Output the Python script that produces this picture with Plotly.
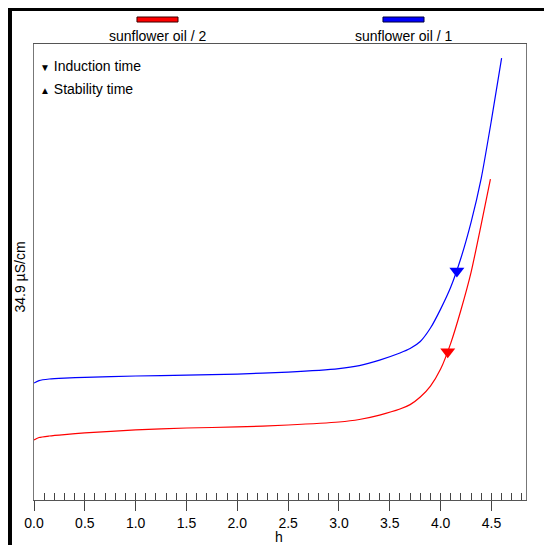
import plotly.graph_objects as go

# ---- data (h, conductivity µS/cm) ----
blue_h = [0.00, 0.05, 0.15, 0.30, 0.50, 1.00, 1.50, 2.00, 2.50, 3.00, 3.20, 3.40, 3.60,
          3.70, 3.80, 3.90, 4.00, 4.10, 4.20, 4.30, 4.40, 4.50, 4.60]
blue_y = [8.95, 9.14, 9.26, 9.33, 9.39, 9.49, 9.56, 9.64, 9.79, 10.06, 10.29, 10.71, 11.25,
          11.59, 12.13, 13.16, 14.61, 16.30, 18.52, 21.27, 24.64, 29.07, 33.82]

red_h = [0.00, 0.05, 0.15, 0.30, 0.50, 1.00, 1.50, 2.00, 2.50, 3.00, 3.20, 3.40, 3.60,
         3.70, 3.80, 3.90, 4.00, 4.10, 4.20, 4.30, 4.40, 4.49]
red_y = [4.59, 4.78, 4.90, 5.01, 5.13, 5.36, 5.51, 5.59, 5.74, 5.97, 6.16, 6.50, 6.96,
         7.30, 7.88, 8.72, 10.02, 12.01, 14.54, 17.44, 21.12, 24.56]

induction_h = [4.07, 4.16]
induction_y = [11.34, 17.52]
induction_colors = ["#ff0000", "#0000ff"]

series_names = ["sunflower oil / 2", "sunflower oil / 1"]
series_colors = ["#ff0000", "#0000ff"]

tick_vals = [0.0, 0.5, 1.0, 1.5, 2.0, 2.5, 3.0, 3.5, 4.0, 4.5]
tick_text = ["0.0", "0.5", "1.0", "1.5", "2.0", "2.5", "3.0", "3.5", "4.0", "4.5"]

FONT = "Liberation Sans, Arial, sans-serif"

fig = go.Figure()
fig.add_trace(go.Scatter(x=red_h, y=red_y, mode="lines",
                         line=dict(color=series_colors[0], width=1.2, shape="spline", smoothing=0.6),
                         name=series_names[0], showlegend=False, hoverinfo="skip"))
fig.add_trace(go.Scatter(x=blue_h, y=blue_y, mode="lines",
                         line=dict(color=series_colors[1], width=1.2, shape="spline", smoothing=0.6),
                         name=series_names[1], showlegend=False, hoverinfo="skip"))
fig.add_trace(go.Scatter(x=induction_h, y=induction_y, mode="markers",
                         marker=dict(symbol="triangle-down", size=13, color=induction_colors, line=dict(width=0)),
                         showlegend=False, hoverinfo="skip"))
# helper invisible trace for the secondary x axis (inside minor ticks)
fig.add_trace(go.Scatter(x=[0], y=[0], xaxis="x2", mode="markers", marker=dict(opacity=0),
                         showlegend=False, hoverinfo="skip"))

# the page adds an 8px body margin, so the figure is 8px smaller than the window
fig.update_layout(
    width=544, height=537,
    margin=dict(l=26, r=26, t=36, b=45),
    paper_bgcolor="white", plot_bgcolor="white",
    font=dict(family=FONT, size=14, color="black"),
    xaxis=dict(range=[0, 4.84], tickvals=tick_vals, ticktext=tick_text, ticks="outside", ticklen=10,
               tickcolor="#444", tickwidth=1, showline=True, linecolor="#555", linewidth=1, mirror=True,
               showgrid=False, zeroline=False, tickfont=dict(size=14)),
    xaxis2=dict(range=[0, 4.84], overlaying="x", anchor="y", side="bottom", dtick=0.1, tick0=0,
                ticks="inside", ticklen=7, tickcolor="#444", tickwidth=1, showticklabels=False,
                showline=False, showgrid=False, zeroline=False),
    yaxis=dict(range=[0, 34.9], showticklabels=False, ticks="", showline=True, linecolor="#777",
               linewidth=1, mirror=True, showgrid=False, zeroline=False),
)

# outer black frame (partially visible)
fig.add_shape(type="line", xref="paper", yref="paper", x0=-0.0488, x1=-0.0488, y0=1.0812, y1=-0.12,
              line=dict(color="black", width=4))
fig.add_shape(type="line", xref="paper", yref="paper", x0=-0.0528, x1=1.08, y0=1.0768, y1=1.0768,
              line=dict(color="black", width=4))

# top legend bars
bar_x = [(0.2093, 0.2927), (0.7093, 0.7927)]
for (x0, x1), col, name in zip(bar_x, series_colors, series_names):
    fig.add_shape(type="rect", xref="paper", yref="paper", x0=x0, x1=x1, y0=1.0482, y1=1.0592,
                  fillcolor=col, line=dict(color="#3a0000" if col == "#ff0000" else "#00003a", width=1))
    fig.add_annotation(xref="paper", yref="paper", x=(x0 + x1) / 2, y=1.0175, text=name, showarrow=False,
                       xanchor="center", yanchor="middle", font=dict(size=14))

# marker legend
fig.add_annotation(xref="paper", yref="paper", x=0.008, y=0.9518, xanchor="left", yanchor="middle",
                   showarrow=False, text="<span style='font-size:10px'>▼</span> Induction time",
                   font=dict(size=14))
fig.add_annotation(xref="paper", yref="paper", x=0.008, y=0.9013, xanchor="left", yanchor="middle",
                   showarrow=False, text="<span style='font-size:10px'>▲</span> Stability time",
                   font=dict(size=14))

# y-axis label
fig.add_annotation(xref="paper", yref="paper", x=-0.0285, y=0.49, textangle=-90, showarrow=False,
                   xanchor="center", yanchor="middle", text="34.9 µS/cm", font=dict(size=14))

# x-axis label
fig.add_annotation(xref="paper", yref="paper", x=0.498, y=-0.081, showarrow=False,
                   xanchor="center", yanchor="middle", text="h", font=dict(size=14))

fig.write_html("out.html")
